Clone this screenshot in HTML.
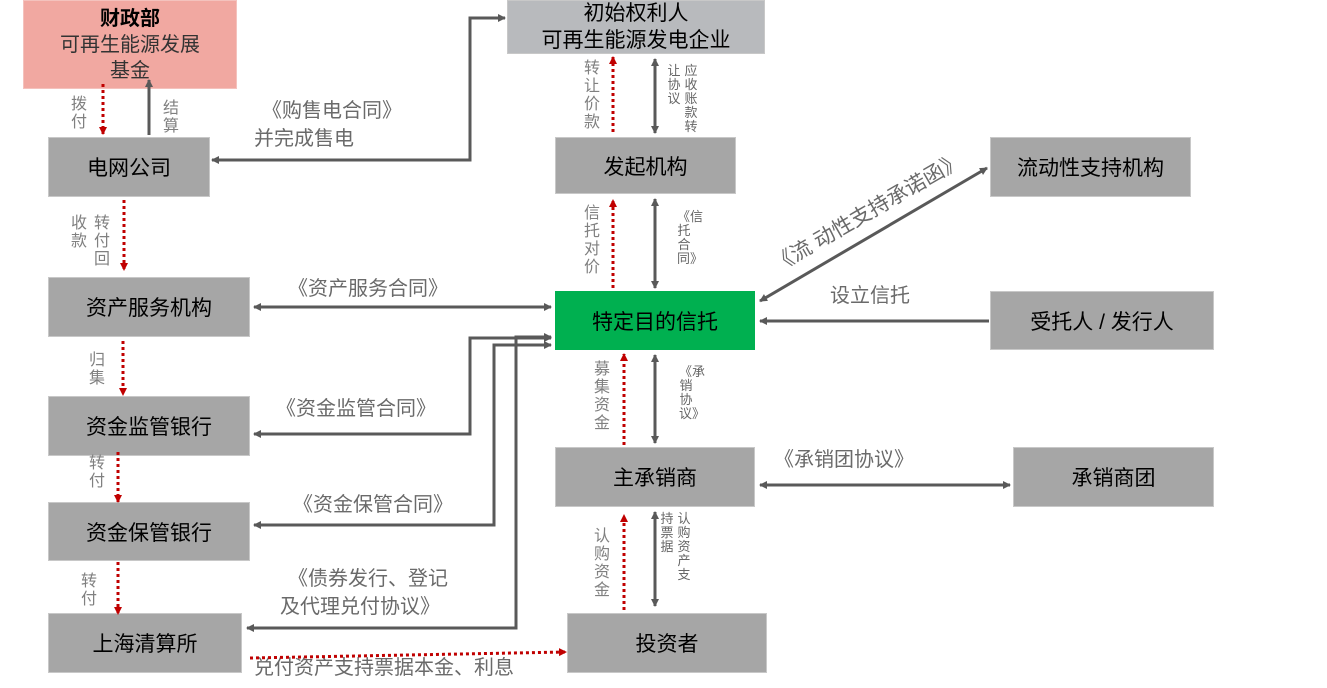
<!DOCTYPE html>
<html><head><meta charset="utf-8"><style>
body{margin:0;width:1327px;height:688px;background:#fff;position:relative;overflow:hidden;font-family:"Liberation Sans","Noto Sans CJK SC",sans-serif}
.b{position:absolute;background:#a6a6a6;display:flex;align-items:center;justify-content:center;text-align:center;font-size:21px;color:#000;box-sizing:border-box;border:1px solid #c8c8c8}
.v{position:absolute;width:18px;font-size:16px;line-height:18px;color:#808080;text-align:center}
.vs{position:absolute;width:14px;font-size:13px;line-height:14px;color:#666;text-align:center}
.h{position:absolute;font-size:20px;color:#6a6a6a;white-space:nowrap;line-height:26px}
svg{position:absolute;left:0;top:0;z-index:2}
</style></head><body>
<svg width="1327" height="688">
<defs>
<marker id="g" markerWidth="8" markerHeight="8" refX="7" refY="4" orient="auto-start-reverse" markerUnits="userSpaceOnUse"><path d="M0,0 L8,4 L0,8 Z" fill="#595959"/></marker>
<marker id="r" markerWidth="8" markerHeight="8" refX="7" refY="4" orient="auto" markerUnits="userSpaceOnUse"><path d="M0,0 L8,4 L0,8 Z" fill="#c00000"/></marker>
</defs>
<g stroke="#595959" stroke-width="3" fill="none">
<path d="M149,135 V80" marker-end="url(#g)"/>
<path d="M505,18 H470 V160 H212" marker-start="url(#g)" marker-end="url(#g)"/>
<path d="M254,307 H551" marker-start="url(#g)" marker-end="url(#g)"/>
<path d="M254,434 H470 V338 H551" marker-start="url(#g)" marker-end="url(#g)"/>
<path d="M254,525 H494 V345 H551" marker-start="url(#g)" marker-end="url(#g)"/>
<path d="M247,628 H516 V337 H551" marker-start="url(#g)" marker-end="url(#g)"/>
<path d="M655,59 V133" marker-start="url(#g)" marker-end="url(#g)"/>
<path d="M655,199 V288" marker-start="url(#g)" marker-end="url(#g)"/>
<path d="M655,355 V443" marker-start="url(#g)" marker-end="url(#g)"/>
<path d="M655,512 V606" marker-start="url(#g)" marker-end="url(#g)"/>
<path d="M760,485 H1010" marker-start="url(#g)" marker-end="url(#g)"/>
<path d="M989,321 H760" marker-end="url(#g)"/>
<path d="M760,301 L987,168" marker-start="url(#g)" marker-end="url(#g)"/>
</g>
<g stroke="#c00000" stroke-width="3" fill="none" stroke-dasharray="3,3">
<path d="M103,84 V134" marker-end="url(#r)"/>
<path d="M124,200 V270" marker-end="url(#r)"/>
<path d="M123,341 V395" marker-end="url(#r)"/>
<path d="M118,452 V502" marker-end="url(#r)"/>
<path d="M118,562 V614" marker-end="url(#r)"/>
<path d="M613,132 V57" marker-end="url(#r)"/>
<path d="M613,288 V200" marker-end="url(#r)"/>
<path d="M624,445 V354" marker-end="url(#r)"/>
<path d="M624,610 V515" marker-end="url(#r)"/>
<path d="M250,658 L566,652" marker-end="url(#r)"/>
</g>
</svg>
<div class="b" style="left:23px;top:0;width:214px;height:89px;background:#f1a8a1;border-color:#f4c2bd;flex-direction:column;line-height:26px;font-size:20px"><b>财政部</b><span style="color:#333">可再生能源发展</span><span style="color:#333">基金</span></div>
<div class="b" style="left:507px;top:0;width:258px;height:54px;background:#b8babd;flex-direction:column;line-height:27px">初始权利人<span>可再生能源发电企业</span></div>
<div class="b" style="left:48px;top:137px;width:162px;height:60px">电网公司</div>
<div class="b" style="left:555px;top:137px;width:181px;height:57px">发起机构</div>
<div class="b" style="left:990px;top:137px;width:201px;height:60px">流动性支持机构</div>
<div class="b" style="left:48px;top:277px;width:202px;height:60px">资产服务机构</div>
<div class="b" style="left:555px;top:291px;width:200px;height:59px;background:#00b050;border-color:#00b050">特定目的信托</div>
<div class="b" style="left:990px;top:291px;width:224px;height:59px">受托人 / 发行人</div>
<div class="b" style="left:48px;top:396px;width:202px;height:60px">资金监管银行</div>
<div class="b" style="left:555px;top:447px;width:200px;height:60px">主承销商</div>
<div class="b" style="left:1013px;top:447px;width:201px;height:60px">承销商团</div>
<div class="b" style="left:48px;top:502px;width:202px;height:59px">资金保管银行</div>
<div class="b" style="left:48px;top:613px;width:194px;height:60px">上海清算所</div>
<div class="b" style="left:567px;top:613px;width:200px;height:60px">投资者</div>

<div class="v" style="left:70px;top:96px">拨付</div>
<div class="v" style="left:162px;top:100px">结算</div>
<div class="v" style="left:70px;top:215px">收款</div>
<div class="v" style="left:93px;top:215px">转付回</div>
<div class="v" style="left:88px;top:352px">归集</div>
<div class="v" style="left:88px;top:455px">转付</div>
<div class="v" style="left:80px;top:573px">转付</div>
<div class="v" style="left:583px;top:60px">转让价款</div>
<div class="vs" style="left:667px;top:64px">让协议</div>
<div class="vs" style="left:684px;top:64px">应收账款转</div>
<div class="v" style="left:583px;top:205px">信托对价</div>
<div class="vs" style="left:677px;top:210px">《信托合同》</div>
<div class="v" style="left:593px;top:361px">募集资金</div>
<div class="vs" style="left:679px;top:365px">《承销协议》</div>
<div class="v" style="left:593px;top:528px">认购资金</div>
<div class="vs" style="left:660px;top:512px">持票据</div>
<div class="vs" style="left:677px;top:512px">认购资产支</div>

<div class="h" style="left:262px;top:98px">《购售电合同》</div>
<div class="h" style="left:254px;top:126px">并完成售电</div>
<div class="h" style="left:288px;top:276px">《资产服务合同》</div>
<div class="h" style="left:276px;top:396px">《资金监管合同》</div>
<div class="h" style="left:293px;top:492px">《资金保管合同》</div>
<div class="h" style="left:288px;top:566px">《债券发行、登记</div>
<div class="h" style="left:280px;top:594px">及代理兑付协议》</div>
<div class="h" style="left:254px;top:655px">兑付资产支持票据本金、利息</div>
<div class="h" style="left:830px;top:283px">设立信托</div>
<div class="h" style="left:774px;top:447px">《承销团协议》</div>
<div class="h" style="left:768px;top:256px;font-size:21px;transform:rotate(-30deg);transform-origin:0 0">《流 动性支持承诺函》</div>
</body></html>
